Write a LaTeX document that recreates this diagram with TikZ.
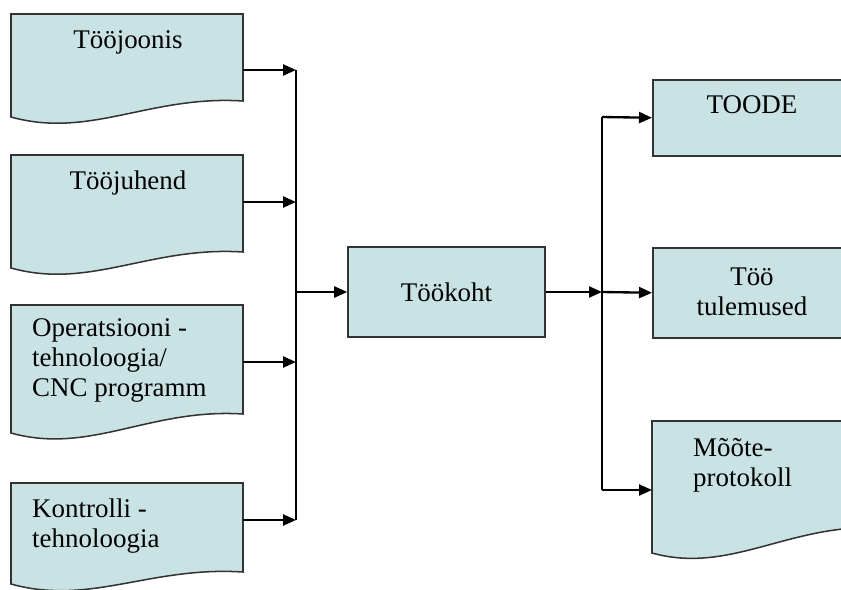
\documentclass[tikz,border=0pt]{standalone}
\usepackage{fontspec}
\setmainfont{Liberation Serif}
\usetikzlibrary{arrows.meta}
\definecolor{kastivarv}{RGB}{201,227,228}
\newcommand{\dokument}[4]{% vasak x, ylemine y, parem alumine y, vasak alumine y
  \draw[kast] (#1,#2) -- (#1+232,#2) -- (#1+232,#3)
  .. controls (#1+139,#3-6) and (#1+79,#4+22) .. (#1,#4) -- cycle ;}
\tikzset{
  kast/.style={draw=black!80,line width=1.3pt,fill=kastivarv},
  tekst/.style={font=\fontsize{23}{25.6}\selectfont,inner sep=0pt,align=left},
  nool/.style={line width=2pt,-{Triangle[length=3.9mm,width=3.3mm]}},
  joon/.style={line width=2pt},
}

\begin{document}
\begin{tikzpicture}[x=0.3mm,y=-0.3mm]
        \useasboundingbox (0,0) rectangle (841,590) ;
        \clip (0,0) rectangle (841,590) ;
        % dokumendid vasakul
        \dokument{11}{14}{101}{117}
        \dokument{11}{155}{252}{268}
        \dokument{11}{305}{414}{433}
        \dokument{11}{483}{572}{584}
        \node[tekst] (joonis) at (128,42) {Tööjoonis} ;
        \node[tekst] (juhend) at (128,183) {Tööjuhend} ;
        \node[tekst,anchor=west] (operats) at (32,360)
        {Operatsiooni -\\tehnoloogia/\\CNC programm} ;
        \node[tekst,anchor=west] (kontroll) at (32,526)
        {Kontrolli -\\tehnoloogia} ;
        \coordinate (joonis-v) at (243,70) ;
        \coordinate (juhend-v) at (243,202) ;
        \coordinate (operats-v) at (243,362) ;
        \coordinate (kontroll-v) at (243,520) ;
        % vasak kogumisjoon
        \coordinate (s1) at (296,70) ;
        \coordinate (s2) at (296,202) ;
        \coordinate (s3) at (296,362) ;
        \coordinate (s4) at (296,520) ;
        \coordinate (s0) at (296,292) ;
        \draw[joon] (s1) -- (s4) ;
        \draw[nool] (joonis-v) -- (s1) ;
        \draw[nool] (juhend-v) -- (s2) ;
        \draw[nool] (operats-v) -- (s3) ;
        \draw[nool] (kontroll-v) -- (s4) ;
        % tookoht
        \node[kast,tekst,minimum width=59.1mm,minimum height=27mm]
        (tookoht) at (446.5,292) {Töökoht} ;
        \draw[nool] (s0) -- (tookoht) ;
        % parem pool
        \node[kast,inner sep=0pt,minimum width=75mm,minimum height=22.8mm,
        anchor=north west] (toode) at (652,79) {} ;
        \node[kast,inner sep=0pt,minimum width=75mm,minimum height=27mm,
        anchor=north west] (tulem) at (652,247) {} ;
        \dokument{652}{421}{528}{553}
        \coordinate (moote-v) at (652,490) ;
        \node[tekst] (toode-t) at (752,105) {TOODE} ;
        \node[tekst,align=center] (tulem-t) at (752,292) {Töö\\tulemused} ;
        \node[tekst,anchor=west] (moote) at (693,465) {Mõõte-\\protokoll} ;
        \coordinate (p0) at (602,292) ;
        \coordinate (p1) at (602,117) ;
        \coordinate (p3) at (602,490) ;
        \draw[nool] (tookoht) -- (p0) ;
        \draw[joon] (p1) -- (p3) ;
        \draw[nool] (p1) -- (toode.west) ;
        \draw[nool] (p0) -- (tulem.west) ;
        \draw[nool] (p3) -- (moote-v) ;
      \end{tikzpicture}
\end{document}
